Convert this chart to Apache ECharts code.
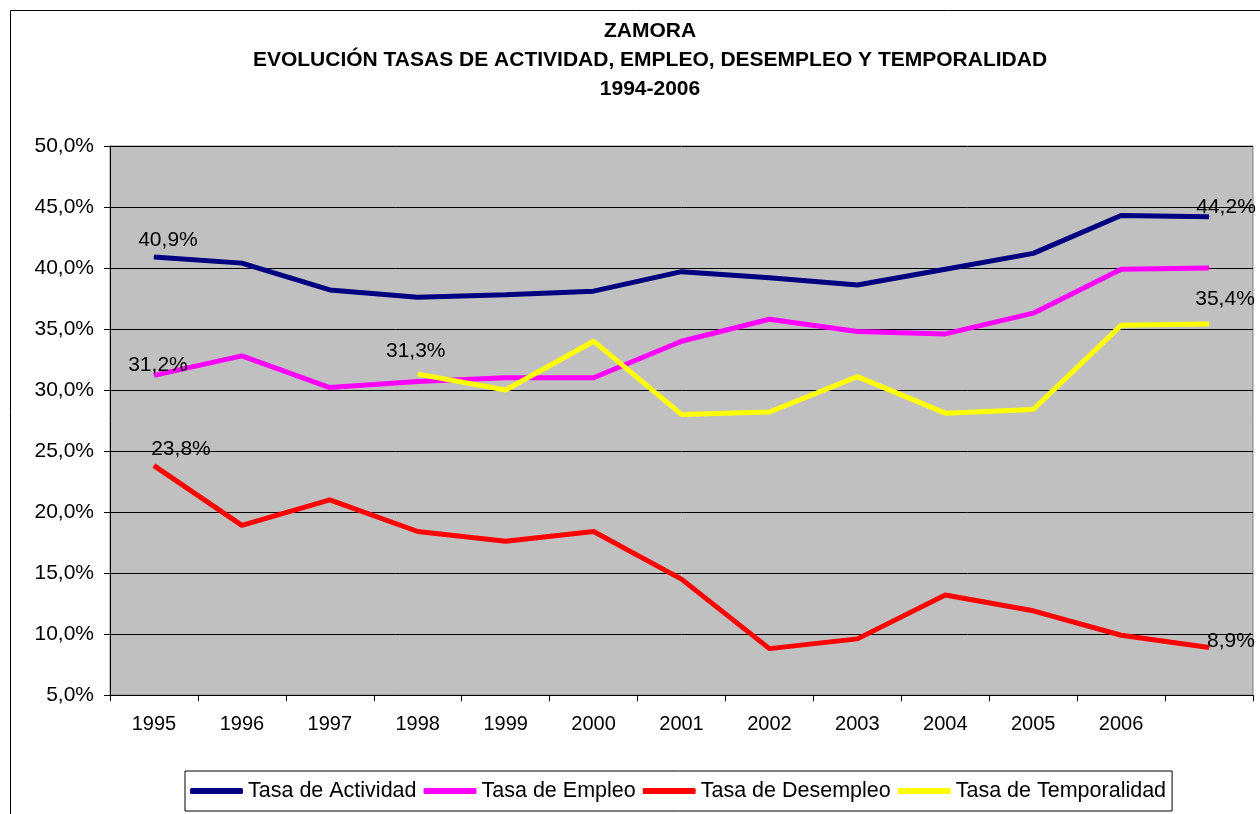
<!DOCTYPE html>
<html>
<head>
<meta charset="utf-8">
<script src="https://cdn.jsdelivr.net/npm/echarts@6/dist/echarts.min.js"></script>
<style>
  html, body { margin: 0; padding: 0; background: #fff; }
  #main { width: 1260px; height: 814px; }
</style>
</head>
<body>
<div id="main"></div>
<script>
// values
var years = ["1995", "1996", "1997", "1998", "1999", "2000", "2001", "2002", "2003", "2004", "2005", "2006", ""];
var actividad = [40.9, 40.4, 38.2, 37.6, 37.8, 38.1, 39.7, 39.2, 38.6, 39.9, 41.2, 44.3, 44.2];
var empleo = [31.2, 32.8, 30.2, 30.7, 31.0, 31.0, 34.0, 35.8, 34.8, 34.6, 36.3, 39.9, 40.0];
var desempleo = [23.8, 18.9, 21.0, 18.4, 17.6, 18.4, 14.5, 8.8, 9.6, 13.2, 11.9, 9.9, 8.9];
var temporalidad = [null, null, null, 31.3, 30.0, 34.0, 28.0, 28.2, 31.1, 28.1, 28.4, 35.3, 35.4];

function fmt(v) {
  return v.toFixed(1).replace(".", ",") + "%";
}

// mark first and last values with a label, shifted like in the original
function withLabels(arr, firstOff, lastOff) {
  var first = -1, last = -1;
  arr.forEach(function (v, i) {
    if (v != null) {
      if (first < 0) first = i;
      last = i;
    }
  });
  return arr.map(function (v, i) {
    var off = null;
    if (i === first) off = firstOff;
    if (i === last) off = lastOff;
    if (!off || v == null) return v;
    return {
      value: v,
      label: { show: true, position: "inside", offset: off }
    };
  });
}

var myChart = echarts.init(document.getElementById("main"));

function lineSeries(name, data, color) {
  return {
    name: name,
    type: "line",
    data: data,
    symbol: "circle",
    symbolSize: 1,
    showSymbol: true,
    connectNulls: false,
    itemStyle: { color: color },
    lineStyle: { color: color, width: 5 },
    label: {
      show: false,
      color: "#000",
      fontSize: 21,
      fontFamily: "Liberation Sans",
      formatter: function (p) { return fmt(p.value); }
    },
    emphasis: { disabled: true },
    animation: false
  };
}

var option = {
  backgroundColor: "#fff",
  animation: false,
  title: {
    text: "ZAMORA\nEVOLUCIÓN TASAS DE ACTIVIDAD, EMPLEO, DESEMPLEO Y TEMPORALIDAD\n1994-2006",
    left: 645,
    top: 12,
    textAlign: "center",
    textStyle: {
      fontFamily: "Liberation Sans",
      fontWeight: "bold",
      fontSize: 21,
      lineHeight: 29,
      color: "#000"
    }
  },
  graphic: [
    {
      type: "rect",
      left: 8,
      top: 8,
      shape: { width: 1400, height: 1000 },
      style: { fill: "none", stroke: "#000", lineWidth: 1 },
      silent: true,
      z: -1
    }
  ],
  grid: {
    left: 110,
    top: 146,
    right: 7,
    bottom: 119,
    show: true,
    backgroundColor: "#c0c0c0",
    borderColor: "#808080",
    borderWidth: 1
  },
  legend: {
    left: 185,
    top: 771,
    width: 1050,
    padding: [9, 6, 9, 5],
    itemGap: 7,
    itemWidth: 53,
    itemHeight: 6,
    icon: "roundRect",
    borderColor: "#000",
    borderWidth: 1,
    textStyle: { fontSize: 21.5, fontFamily: "Liberation Sans", color: "#000" },
    data: ["Tasa de Actividad", "Tasa de Empleo", "Tasa de Desempleo", "Tasa de Temporalidad"]
  },
  xAxis: {
    type: "category",
    data: years,
    boundaryGap: true,
    axisLine: { lineStyle: { color: "#000", width: 1 } },
    axisTick: { show: true, length: 6, lineStyle: { color: "#000" } },
    axisLabel: {
      color: "#000",
      fontSize: 20,
      fontFamily: "Liberation Sans",
      margin: 19,
      interval: 0
    },
    splitLine: { show: false }
  },
  yAxis: {
    type: "value",
    min: 5,
    max: 50,
    interval: 5,
    axisLine: { show: true, lineStyle: { color: "#000", width: 1 } },
    axisTick: { show: true, length: 6, lineStyle: { color: "#000" } },
    axisLabel: {
      color: "#000",
      fontSize: 21,
      fontFamily: "Liberation Sans",
      margin: 16,
      formatter: function (v) { return fmt(v); }
    },
    splitLine: { show: true, lineStyle: { color: "#000", width: 1 } }
  },
  series: [
    lineSeries("Tasa de Actividad", withLabels(actividad, [14, -17], [17, -10]), "#000080"),
    lineSeries("Tasa de Empleo", withLabels(empleo, [4, -10], null), "#ff00ff"),
    lineSeries("Tasa de Desempleo", withLabels(desempleo, [27, -16], [22, -6]), "#ff0000"),
    lineSeries("Tasa de Temporalidad", withLabels(temporalidad, [-2, -23], [16, -25]), "#ffff00")
  ]
};

myChart.setOption(option);
</script>
</body>
</html>
